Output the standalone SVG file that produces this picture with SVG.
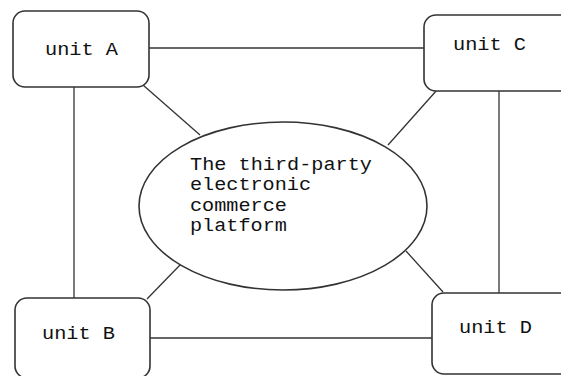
<svg xmlns="http://www.w3.org/2000/svg" width="561" height="376" viewBox="0 0 561 376">
<style>
.box{fill:#fff;stroke:#333;stroke-width:1.6}
.ln{stroke:#333;stroke-width:1.3;fill:none}
text{font-family:"Liberation Mono","Courier New",monospace;font-size:19px;fill:#111}
</style>
<rect width="561" height="376" fill="#fff"/>
<g id="connectors">
<line class="ln" x1="149" y1="48" x2="424" y2="48"/>
<line class="ln" x1="74" y1="87" x2="74" y2="298"/>
<line class="ln" x1="150" y1="338" x2="432" y2="338"/>
<line class="ln" x1="499" y1="91" x2="499" y2="293"/>
<line class="ln" x1="143" y1="85" x2="200" y2="135"/>
<line class="ln" x1="437" y1="90" x2="388" y2="145"/>
<line class="ln" x1="147" y1="299" x2="180" y2="265"/>
<line class="ln" x1="443" y1="292" x2="406" y2="251"/>
</g>
<g id="platform">
<ellipse class="box" cx="283" cy="206" rx="144" ry="84"/>
<text x="190" y="170" textLength="182" lengthAdjust="spacingAndGlyphs">The third-party</text>
<text x="190" y="190" textLength="121" lengthAdjust="spacingAndGlyphs">electronic</text>
<text x="190" y="211" textLength="97" lengthAdjust="spacingAndGlyphs">commerce</text>
<text x="190" y="231" textLength="97" lengthAdjust="spacingAndGlyphs">platform</text>
</g>
<g id="unitA">
<rect class="box" x="13" y="11" width="136" height="76" rx="12"/>
<text x="45" y="55" textLength="73" lengthAdjust="spacingAndGlyphs">unit A</text>
</g>
<g id="unitC">
<rect class="box" x="424" y="15" width="160" height="76" rx="12"/>
<text x="453" y="50" textLength="73" lengthAdjust="spacingAndGlyphs">unit C</text>
</g>
<g id="unitB">
<rect class="box" x="15" y="298" width="135" height="80" rx="12"/>
<text x="42" y="339" textLength="73" lengthAdjust="spacingAndGlyphs">unit B</text>
</g>
<g id="unitD">
<rect class="box" x="432" y="293" width="160" height="81" rx="12"/>
<text x="459" y="333" textLength="73" lengthAdjust="spacingAndGlyphs">unit D</text>
</g>
</svg>
